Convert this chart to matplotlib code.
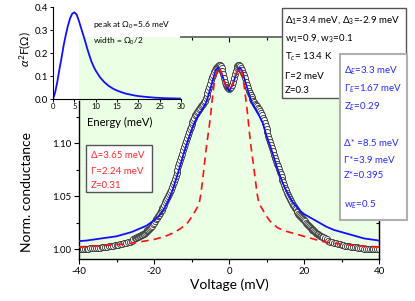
import matplotlib
matplotlib.use('Agg')
import matplotlib.pyplot as plt
import numpy as np
from matplotlib.patches import Rectangle
from matplotlib.ticker import FixedLocator

plt.rcParams['font.family'] = ['Lato', 'DejaVu Sans']
plt.rcParams['axes.unicode_minus'] = False
plt.rcParams['mathtext.fontset'] = 'custom'
plt.rcParams['mathtext.rm'] = 'Lato'
plt.rcParams['mathtext.it'] = 'Lato:italic'

# ---------------- data ----------------
# measured conductance (open circles): tails every 0.5 mV, centre every 0.25 mV
v_tail_left = np.arange(-40, -25.4, 0.5)
v_mid = np.arange(-25, 25.01, 0.25)
v_tail_right = np.arange(25.5, 40.01, 0.5)

g_tail_left = [1.000, 1.000, 1.000, 1.000, 1.000, 1.000, 1.001, 1.001, 1.001, 1.001,
               1.001, 1.001, 1.002, 1.002, 1.002, 1.002, 1.003, 1.003, 1.003, 1.004,
               1.004, 1.004, 1.005, 1.005, 1.006, 1.006, 1.007, 1.007, 1.008, 1.009]
g_mid = [
    1.010, 1.0105, 1.011, 1.0115, 1.012, 1.0125, 1.013, 1.0135, 1.014, 1.0145,
    1.015, 1.016, 1.017, 1.0175, 1.018, 1.019, 1.020, 1.021, 1.022, 1.0235,
    1.025, 1.0265, 1.028, 1.0295, 1.031, 1.0325, 1.034, 1.0355, 1.037, 1.0385,
    1.040, 1.042, 1.044, 1.046, 1.048, 1.050, 1.052, 1.054, 1.056, 1.0585,
    1.061, 1.0635, 1.066, 1.069, 1.072, 1.075, 1.078, 1.081, 1.084, 1.087,
    1.090, 1.093, 1.096, 1.099, 1.102, 1.105, 1.108, 1.1105, 1.113, 1.1155,
    1.118, 1.120, 1.122, 1.124, 1.126, 1.1275, 1.129, 1.1305, 1.132, 1.1335,
    1.135, 1.136, 1.137, 1.1385, 1.140, 1.142, 1.144, 1.147, 1.150, 1.153,
    1.156, 1.159, 1.162, 1.1645, 1.167, 1.169, 1.171, 1.172, 1.173, 1.1738,
    1.174, 1.173, 1.171, 1.168, 1.165, 1.1615, 1.158, 1.155, 1.153, 1.1515,
    1.151,
    1.1515, 1.153, 1.155, 1.158, 1.1615, 1.165, 1.168, 1.171, 1.173, 1.174,
    1.1738, 1.173, 1.171, 1.169, 1.1665, 1.164, 1.161, 1.158, 1.155, 1.152,
    1.1495, 1.147, 1.145, 1.143, 1.1415, 1.140, 1.1385, 1.137, 1.136, 1.135,
    1.1335, 1.132, 1.130, 1.128, 1.126, 1.124, 1.1215, 1.119, 1.116, 1.113,
    1.110, 1.107, 1.104, 1.101, 1.098, 1.095, 1.092, 1.089, 1.086, 1.083,
    1.0805, 1.078, 1.0755, 1.073, 1.0705, 1.068, 1.0655, 1.063, 1.0605, 1.058,
    1.0555, 1.053, 1.051, 1.049, 1.047, 1.045, 1.0435, 1.042, 1.0405, 1.039,
    1.0375, 1.036, 1.0345, 1.033, 1.032, 1.031, 1.030, 1.029, 1.028, 1.027,
    1.026, 1.025, 1.024, 1.023, 1.022, 1.021, 1.020, 1.019, 1.018, 1.0175,
    1.017, 1.016, 1.015, 1.0145, 1.014, 1.013, 1.0125, 1.012, 1.0115, 1.011,
]
g_tail_right = [1.010, 1.009, 1.008, 1.007, 1.0065, 1.006, 1.0055, 1.005, 1.0045, 1.004,
                1.0035, 1.003, 1.003, 1.0025, 1.002, 1.002, 1.0015, 1.0015, 1.001, 1.001,
                1.001, 1.0005, 1.0005, 1.000, 1.000, 1.000, 1.000, 1.000, 1.000, 1.000]

v_data = np.concatenate([v_tail_left, v_mid, v_tail_right])
g_data = np.array(g_tail_left + g_mid + g_tail_right)

v_blue = [-40, -38, -36, -34, -32, -30, -28, -26, -24, -22, -20, -19, -18, -17,
          -16, -15, -14, -13, -12, -11, -10, -9, -8, -7, -6, -5, -4, -3.5, -3,
          -2.5, -2, -1, 0, 1, 2, 2.5, 3, 3.5, 4, 5, 6, 7, 8, 9, 10, 11, 12, 13,
          14, 15, 16, 17, 18, 19, 20, 22, 24, 26, 28, 30, 32, 34, 36, 38, 40]
g_blue = [1.0075, 1.008, 1.009, 1.010, 1.011, 1.012, 1.014, 1.016, 1.019, 1.022,
          1.027, 1.030, 1.034, 1.040, 1.047, 1.056, 1.067, 1.079, 1.091, 1.102,
          1.112, 1.121, 1.127, 1.132, 1.139, 1.151, 1.163, 1.169, 1.171, 1.170,
          1.166, 1.155, 1.149, 1.155, 1.166, 1.170, 1.171, 1.168, 1.162, 1.150,
          1.139, 1.132, 1.126, 1.119, 1.107, 1.097, 1.086, 1.075, 1.065, 1.057,
          1.050, 1.044, 1.040, 1.036, 1.033, 1.029, 1.025, 1.021, 1.018, 1.016,
          1.014, 1.012, 1.010, 1.009, 1.008]

v_red = [-40, -35, -30, -25, -20, -17, -15, -13, -11, -10, -9, -8, -7.5, -7, -6.5,
         -6, -5.5, -5, -4.5, -4, -3.5, -3, -2.5, -2, -1.5, -1, -0.5, 0, 0.5, 1,
         1.5, 2, 2.5, 3, 3.5, 4, 4.5, 5, 5.5, 6, 6.5, 7, 7.5, 8, 9, 10, 11, 13,
         15, 17, 20, 25, 30, 35, 40]
g_red = [1.002, 1.003, 1.004, 1.006, 1.009, 1.012, 1.015, 1.019, 1.025, 1.030,
         1.036, 1.042, 1.052, 1.066, 1.082, 1.097, 1.110, 1.123, 1.140, 1.155,
         1.166, 1.171, 1.170, 1.166, 1.161, 1.156, 1.152, 1.151, 1.152, 1.156,
         1.161, 1.166, 1.170, 1.171, 1.166, 1.155, 1.141, 1.126, 1.108, 1.093,
         1.080, 1.066, 1.052, 1.043, 1.037, 1.031, 1.026, 1.020, 1.017, 1.015,
         1.012, 1.007, 1.0045, 1.003, 1.002]

e_inset = [0, 0.5, 1, 1.5, 2, 2.5, 3, 3.5, 4, 4.5, 5, 5.5, 6, 6.5, 7, 7.5, 8, 8.5,
           9, 9.5, 10, 11, 12, 13, 14, 15, 16, 17, 18, 19, 20, 22, 24, 26, 28, 30]
a2f_inset = [0.0, 0.03, 0.075, 0.13, 0.18, 0.235, 0.28, 0.32, 0.352, 0.372, 0.378,
             0.37, 0.345, 0.315, 0.285, 0.255, 0.222, 0.192, 0.165, 0.143, 0.125,
             0.096, 0.075, 0.059, 0.047, 0.038, 0.031, 0.025, 0.021, 0.017, 0.014,
             0.010, 0.007, 0.005, 0.004, 0.003]

x_major = [-40, -20, 0, 20, 40]
x_minor = [-30, -10, 10, 30]
y_major = [1.00, 1.05, 1.10]
y_labels = ['1.00', '1.05', '1.10']
y_minor = [1.025, 1.075, 1.125]

# ---------------- figure ----------------
W, H = 415, 301
fig = plt.figure(figsize=(W / 100, H / 100), dpi=100)

def fx(px):
    return px / W

def fy(py):
    return 1 - py / H

ax = fig.add_axes([fx(79), fy(259), fx(300), 222 / H])
ax.set_facecolor('#eaffe4')
ax.set_xlim(-40, 40)
ax.set_ylim(0.9906, 1.2)

ax.plot(v_data, g_data, linestyle='none', marker='o', ms=4.4, mfc='white',
        mec='#303030', mew=0.6, zorder=2)
ax.plot(v_blue, g_blue, color='#1010ff', lw=1.3, zorder=3)
ax.plot(v_red, g_red, color='#ff1010', lw=1.2, ls=(0, (4.5, 3)), zorder=4)

ax.set_xticks(x_major)
ax.set_xticklabels([str(v) for v in x_major])
ax.xaxis.set_minor_locator(FixedLocator(x_minor))
ax.set_yticks(y_major)
ax.set_yticklabels(y_labels)
ax.yaxis.set_minor_locator(FixedLocator(y_minor))
ax.tick_params(which='both', direction='out', labelsize=7, width=0.8,
               pad=2, top=False, right=False)
ax.tick_params(which='major', length=3.5)
ax.tick_params(which='minor', length=2)
ax.spines['top'].set_visible(False)
ax.spines['left'].set_bounds(0.9906, 1.14)
for s in ['left', 'bottom', 'right']:
    ax.spines[s].set_linewidth(1.0)

sec = ax.secondary_xaxis('top')
sec.set_xticks([0, 20, 40])
sec.xaxis.set_minor_locator(FixedLocator([-10, 10, 30]))
sec.tick_params(which='both', direction='in', labeltop=False, width=0.8)
sec.tick_params(which='major', length=3.5)
sec.tick_params(which='minor', length=2)
sec.spines['top'].set_bounds(-12.8, 40)
sec.spines['top'].set_color('#666666')
sec.spines['top'].set_linewidth(1.3)

secy = ax.secondary_yaxis('right')
secy.set_yticks(y_major)
secy.yaxis.set_minor_locator(FixedLocator(y_minor))
secy.tick_params(which='both', direction='in', labelright=False, width=0.8)
secy.tick_params(which='major', length=3.5)
secy.tick_params(which='minor', length=2)

fig.text(fx(229), fy(285), 'Voltage (mV)', ha='center', va='center', fontsize=10)
fig.text(fx(27), fy(192), 'Norm. conductance', ha='center', va='center',
         fontsize=10, rotation=90)

# ---------------- inset ----------------
axin = fig.add_axes([fx(53), fy(99.3), fx(128), 92 / H])
axin.patch.set_alpha(0)
axin.plot(e_inset, a2f_inset, color='#1010ff', lw=1.3)
axin.set_xlim(0, 30)
axin.set_ylim(0, 0.4)
axin.set_xticks([0, 5, 10, 15, 20, 25, 30])
axin.set_yticks([0.0, 0.1, 0.2, 0.3, 0.4])
axin.set_yticklabels(['0.0', '0.1', '0.2', '0.3', '0.4'])
axin.spines['top'].set_visible(False)
axin.spines['right'].set_visible(False)
axin.tick_params(axis='y', labelsize=7, direction='out', length=2, pad=1.5, width=0.7)
axin.tick_params(axis='x', labelsize=5.5, direction='out', length=2, pad=1, width=0.7)
fig.text(fx(120), fy(122), 'Energy (meV)', ha='center', va='center', fontsize=8)
fig.text(fx(25), fy(49), r'$\alpha^{2}$F($\Omega$)', ha='center', va='center',
         fontsize=8.5, rotation=90)
fig.text(fx(93), fy(25), r'peak at $\Omega_0$=5.6 meV', ha='left', va='center',
         fontsize=6)
fig.text(fx(93), fy(41), r'width = $\Omega_0$/2', ha='left', va='center', fontsize=6)

# ---------------- text boxes ----------------
def box(x0, y0, x1, y1, ec, lw, z):
    fig.add_artist(Rectangle((fx(x0), fy(y1)), fx(x1 - x0), (y1 - y0) / H,
                             transform=fig.transFigure, fc='white', ec=ec,
                             lw=lw, zorder=z))

def lines(x, ys, texts, color, z, fs=7):
    for y, t in zip(ys, texts):
        fig.text(fx(x), fy(y), t, ha='left', va='baseline', color=color,
                 fontsize=fs, zorder=z)

box(282, 8, 406, 98, '#555555', 1.0, 10)
lines(285, [22, 41, 59.5, 79, 93],
      [r'Δ$_1$=3.4 meV, Δ$_3$=-2.9 meV',
       r'w$_1$=0.9, w$_3$=0.1',
       r'T$_c$= 13.4 K',
       r'Γ=2 meV',
       r'Z=0.3'], 'black', 11)

box(340, 54, 406.5, 220, '#b0b0b0', 1.5, 12)
lines(344, [73.5, 91.5, 110, 145.5, 163.5, 177.5, 207.5],
      [r'Δ$_E$=3.3 meV',
       r'Γ$_E$=1.67 meV',
       r'Z$_E$=0.29',
       r'Δ* =8.5 meV',
       r'Γ*=3.9 meV',
       r'Z*=0.395',
       r'w$_E$=0.5'], '#2a2aff', 13)

box(86, 145, 152, 192, '#555555', 1.0, 10)
lines(91, [158.5, 173.5, 187.5],
      [r'Δ=3.65 meV', r'Γ=2.24 meV', r'Z=0.31'], '#ff2a2a', 11)

fig.savefig('out.png', dpi=100)
